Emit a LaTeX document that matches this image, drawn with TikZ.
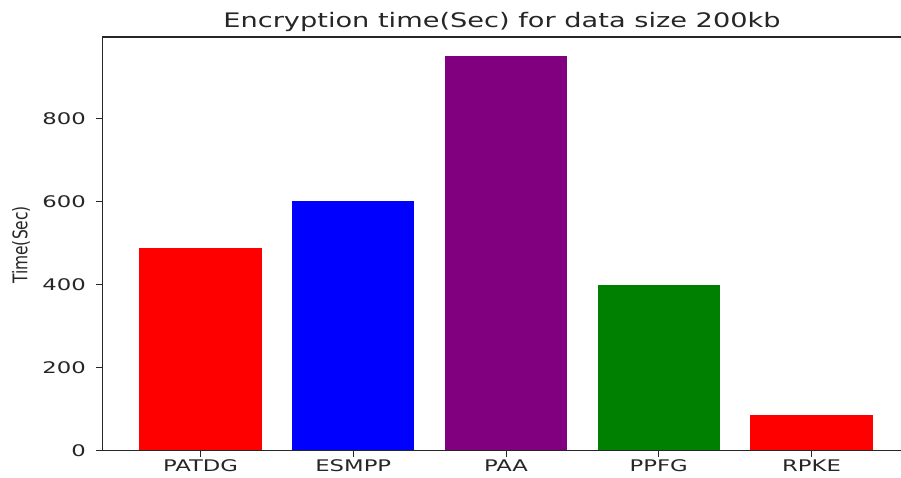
\documentclass[tikz,border=0pt]{standalone}
\usepackage{fontspec}
\setmainfont{DejaVu Sans}
\definecolor{mplpurple}{RGB}{128,0,128}
\definecolor{mplgreen}{RGB}{0,128,0}
\definecolor{axiscol}{RGB}{38,38,38}
\begin{document}
\begin{tikzpicture}[x=1pt,y=-1pt,
  spine/.style={draw=axiscol,line width=1.1pt},
  tickmark/.style={draw=axiscol,line width=1pt},
  ticklab/.style={font=\fontsize{16}{18}\selectfont,text=axiscol,inner sep=0pt,xscale=1.42},
  barbox/.style={inner sep=0pt,outer sep=0pt}]
\useasboundingbox (0,0) rectangle (901,478);
\fill[white] (0,0) rectangle (901,478);
% bars: center 200.5+152.75 i, half width 61.1, y = 450.5 - 0.415 v
\fill[red]        (139.4,248.4) rectangle (261.6,450.5);
\fill[blue]       (292.15,201.5) rectangle (414.35,450.5);
\fill[mplpurple]  (444.9,56.25) rectangle (567.1,450.5);
\fill[mplgreen]   (597.65,284.5) rectangle (719.85,450.5);
\fill[red]        (750.4,415.2) rectangle (872.6,450.5);
% spines
\draw[spine] (102.7,450.5) -- (102.7,37) -- (905,37);
\draw[spine] (102.7,450.5) -- (905,450.5);
% y ticks
\foreach \v/\n in {0/y0,200/y200,400/y400,600/y600,800/y800}{
  \draw[tickmark] (96,{450.5-0.415*\v}) -- (102.7,{450.5-0.415*\v});
  \node[ticklab,anchor=east] (\n) at (86,{450.5-0.415*\v}) {\v};
}
% x ticks
\foreach \i/\t in {0/PATDG,1/ESMPP,2/PAA,3/PPFG,4/RPKE}{
  \draw[tickmark] ({200.5+152.75*\i},450.5) -- ({200.5+152.75*\i},457);
  \node[ticklab,anchor=north] (x\t) at ({200.5+152.75*\i},459.5) {\t};
}
\node[font=\fontsize{15.5}{18}\selectfont,text=axiscol,inner sep=0pt,xscale=1.3,rotate=90] (ylab) at (21,245) {Time(Sec)};
\node[font=\fontsize{20}{22}\selectfont,text=axiscol,inner sep=0pt,xscale=1.36,anchor=base] (title) at (502,28) {Encryption time(Sec) for data size 200kb};
\end{tikzpicture}
\end{document}
